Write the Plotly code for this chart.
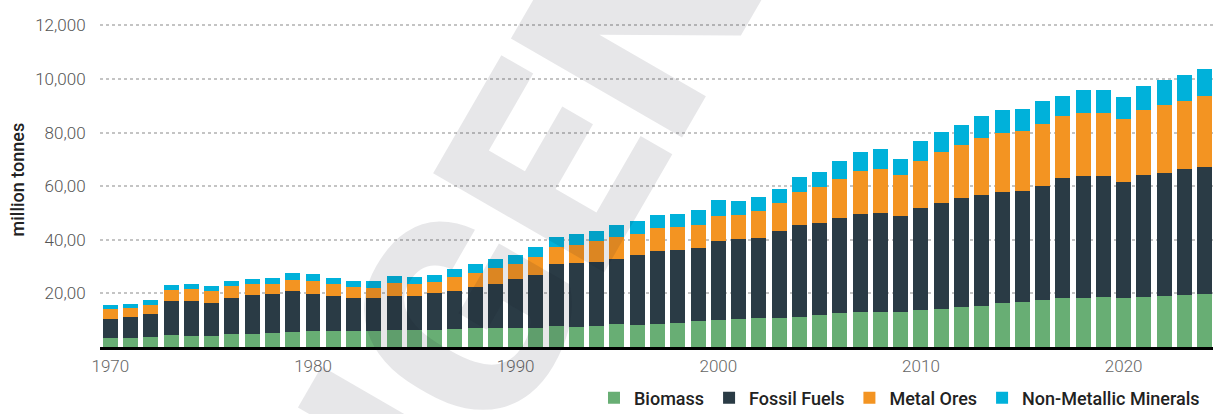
import plotly.graph_objects as go

years = list(range(1970, 2025))

biomass = [323, 323, 360, 435, 397, 397, 472, 472, 509, 546,
           584, 584, 584, 584, 621, 621, 621, 658, 696, 696,
           696, 696, 770, 733, 770, 845, 807, 845, 882, 956,
           994, 1031, 1068, 1068, 1105, 1180, 1254, 1292, 1292, 1292,
           1366, 1403, 1478, 1515, 1627, 1664, 1739, 1813, 1813, 1851,
           1813, 1851, 1888, 1925, 1962]

fossil_fuels = [708, 782, 857, 1267, 1304, 1230, 1341, 1453, 1453, 1528,
                1379, 1304, 1230, 1230, 1267, 1267, 1379, 1416, 1528, 1639,
                1826, 1975, 2310, 2385, 2385, 2422, 2608, 2720, 2720, 2720,
                2944, 2981, 3018, 3242, 3465, 3465, 3577, 3689, 3726, 3614,
                3838, 3987, 4099, 4173, 4173, 4173, 4285, 4508, 4583, 4546,
                4359, 4583, 4620, 4732, 4769]

metal_ores = [373, 335, 335, 410, 447, 447, 447, 410, 373, 410,
              484, 447, 410, 373, 484, 447, 410, 522, 522, 596,
              559, 671, 633, 671, 782, 820, 820, 894, 894, 894,
              932, 932, 1006, 1081, 1230, 1341, 1453, 1602, 1639, 1528,
              1751, 1900, 1975, 2124, 2198, 2236, 2310, 2310, 2347, 2347,
              2347, 2422, 2534, 2534, 2645]

non_metallic = [149, 149, 186, 186, 186, 186, 186, 186, 224, 261,
                261, 224, 224, 261, 261, 261, 261, 298, 335, 335,
                335, 373, 410, 410, 410, 447, 484, 484, 484, 559,
                633, 522, 522, 522, 559, 559, 671, 708, 745, 596,
                745, 745, 745, 820, 857, 820, 857, 745, 857, 857,
                820, 894, 932, 969, 1006]

series_names = ["Biomass", "Fossil Fuels", "Metal Ores", "Non-Metallic Minerals"]
series_values = [biomass, fossil_fuels, metal_ores, non_metallic]
series_colors = ["#68ae74", "#2a3b45", "#f39422", "#00b1da"]

y_tickvals = [2000, 4000, 6000, 8000, 10000, 12000]
y_ticktext = ["20,00", "40,00", "60,00", "80,00", "10,000", "12,000"]
x_tickvals = [1970, 1980, 1990, 2000, 2010, 2020]

fig = go.Figure()
for name, vals, col in zip(series_names, series_values, series_colors):
    fig.add_trace(go.Bar(x=years, y=vals, name=name, marker_color=col,
                         marker_line_width=0, width=0.74))

fig.update_layout(
    barmode="stack",
    width=1213, height=414,
    margin=dict(l=100, r=0, t=12, b=67, autoexpand=False),
    plot_bgcolor="white", paper_bgcolor="white",
    font=dict(family="Roboto", color="#555"),
    showlegend=True,
    legend=dict(orientation="h", xref="container", yref="container",
                x=0.9934, xanchor="right", y=0.0386, yanchor="middle",
                font=dict(family="Roboto", size=18, color="#222", weight=500),
                itemwidth=30, tracegroupgap=0, traceorder="normal",
                bgcolor="rgba(0,0,0,0)"),
    xaxis=dict(range=[1969.49, 2024.41], tickvals=x_tickvals,
               showgrid=False, zeroline=False,
               showline=True, linecolor="black", linewidth=3,
               ticks="outside", ticklen=2, tickcolor="rgba(0,0,0,0)",
               tickfont=dict(family="Roboto", size=17, color="#666", weight=300)),
    yaxis=dict(range=[0, 12500], tickvals=y_tickvals, ticktext=y_ticktext,
               showgrid=True, gridcolor="#c4c4c4", griddash="dot", gridwidth=1.5,
               zeroline=False, showline=False,
               ticks="outside", ticklen=10, tickcolor="rgba(0,0,0,0)",
               tickfont=dict(family="Roboto", size=17, color="#555", weight=300)),
)

fig.add_annotation(text="million tonnes", xref="paper", yref="paper",
                   x=-0.0737, y=0.5, xanchor="center", yanchor="middle",
                   textangle=-90, showarrow=False,
                   font=dict(family="Roboto", size=18, color="#222", weight=500))

fig.add_annotation(text="INTELLIGENCE", xref="paper", yref="paper",
                   x=0.2615, y=-0.309, xanchor="center", yanchor="middle",
                   textangle=-60, showarrow=False,
                   font=dict(family="Roboto", size=278, color="rgba(20,20,40,0.1)", weight=900))

fig.write_html("out.html", config={"displayModeBar": False},
               post_script="document.body.style.margin='0px';document.body.style.overflow='hidden';")
